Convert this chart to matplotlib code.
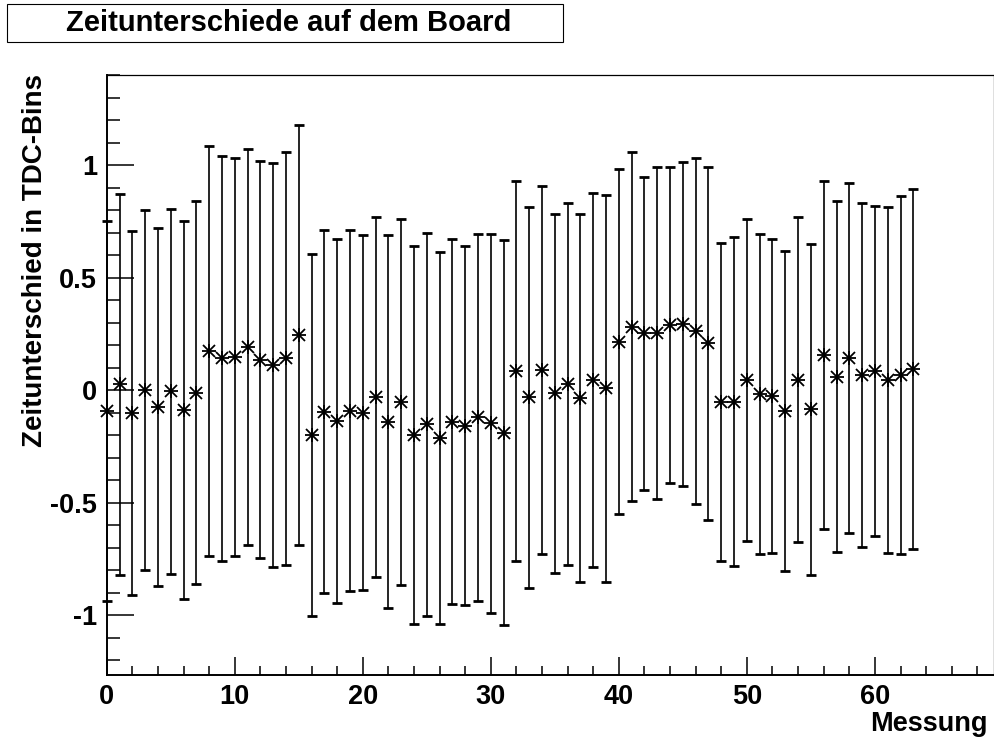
import matplotlib.pyplot as plt
import numpy as np
from matplotlib.patches import Rectangle
from matplotlib.ticker import MultipleLocator, FixedLocator, FixedFormatter

# Messwerte: Zeitdifferenz je Messung (TDC-Bins) und Fehler
messung = np.arange(64)
zeitdiff = [-0.091, 0.027, -0.100, 0.000, -0.073, -0.004, -0.088, -0.012,
            0.175, 0.142, 0.149, 0.191, 0.136, 0.112, 0.142, 0.246,
            -0.198, -0.095, -0.136, -0.091, -0.100, -0.028, -0.139, -0.051,
            -0.199, -0.151, -0.213, -0.139, -0.157, -0.120, -0.147, -0.188,
            0.087, -0.031, 0.090, -0.013, 0.027, -0.036, 0.046, 0.009,
            0.216, 0.283, 0.253, 0.255, 0.290, 0.295, 0.265, 0.209,
            -0.053, -0.051, 0.046, -0.018, -0.024, -0.091, 0.046, -0.085,
            0.157, 0.061, 0.145, 0.068, 0.086, 0.046, 0.068, 0.093]
fehler = [0.845, 0.846, 0.808, 0.800, 0.796, 0.811, 0.840, 0.851,
          0.911, 0.900, 0.884, 0.881, 0.882, 0.898, 0.919, 0.932,
          0.805, 0.806, 0.810, 0.803, 0.790, 0.800, 0.828, 0.814,
          0.840, 0.851, 0.828, 0.813, 0.798, 0.816, 0.841, 0.856,
          0.845, 0.846, 0.816, 0.798, 0.805, 0.818, 0.831, 0.860,
          0.768, 0.776, 0.695, 0.737, 0.704, 0.721, 0.769, 0.785,
          0.708, 0.732, 0.716, 0.712, 0.698, 0.712, 0.722, 0.736,
          0.773, 0.780, 0.778, 0.766, 0.734, 0.770, 0.796, 0.800]

y_ticks = [-1, -0.5, 0, 0.5, 1]
y_labels = ["-1", "-0.5", "0", "0.5", "1"]

plt.rcParams['font.family'] = ['Liberation Sans', 'DejaVu Sans']
plt.rcParams['font.weight'] = 'bold'

W, H = 994, 740
fig = plt.figure(figsize=(W / 100, H / 100), dpi=100)
ax = fig.add_axes([106.7 / W, 1 - 675.3 / H, (W - 106.7) / W, (675.3 - 75) / H])

ax.errorbar(messung, zeitdiff, yerr=fehler, fmt='none', ecolor='black',
            elinewidth=1.2, capsize=3.4, capthick=2.0, clip_on=False)
# Sternmarker: "+" und "x" uebereinander
ax.plot(messung, zeitdiff, ls='none', marker='+', ms=10.5, mew=1.3,
        color='black', clip_on=False)
ax.plot(messung, zeitdiff, ls='none', marker='x', ms=8.8, mew=1.3,
        color='black', clip_on=False)

ax.set_xlim(0, 69.3)
ax.set_ylim(-1.267, 1.401)

ax.xaxis.set_major_locator(MultipleLocator(10))
ax.xaxis.set_minor_locator(MultipleLocator(2))
ax.yaxis.set_major_locator(FixedLocator(y_ticks))
ax.yaxis.set_major_formatter(FixedFormatter(y_labels))
ax.yaxis.set_minor_locator(MultipleLocator(0.1))

ax.tick_params(axis='x', which='major', direction='in', length=13, width=1.1,
               labelsize=19.5, pad=6, top=False)
ax.tick_params(axis='x', which='minor', direction='in', length=6.3, width=1.1,
               top=False)
ax.tick_params(axis='y', which='major', direction='in', length=19.2, width=1.1,
               labelsize=19.5, pad=7, right=False)
ax.tick_params(axis='y', which='minor', direction='in', length=9.1, width=1.1,
               right=False)
for lab in ax.get_xticklabels() + ax.get_yticklabels():
    lab.set_fontweight('bold')

ax.spines['left'].set_linewidth(1.4)
ax.spines['bottom'].set_linewidth(1.4)
ax.spines['top'].set_linewidth(0.9)
ax.spines['right'].set_linewidth(0.9)

fig.text(35 / W, 1 - 74 / H, "Zeitunterschied in TDC-Bins", rotation=90,
         ha='center', va='top', fontsize=20, fontweight='bold')
fig.text(988 / W, 1 - 724 / H, "Messung", ha='right', va='center',
         fontsize=19.5, fontweight='bold')

# Titelkasten oben links
fig.patches.append(Rectangle((7 / W, 1 - 42 / H), 556 / W, 38 / H,
                             transform=fig.transFigure, fill=False,
                             edgecolor='black', linewidth=0.8))
fig.text(289 / W, 1 - 23 / H, "Zeitunterschiede auf dem Board", ha='center',
         va='center', fontsize=21, fontweight='bold')

fig.savefig("out.png", dpi=100)
